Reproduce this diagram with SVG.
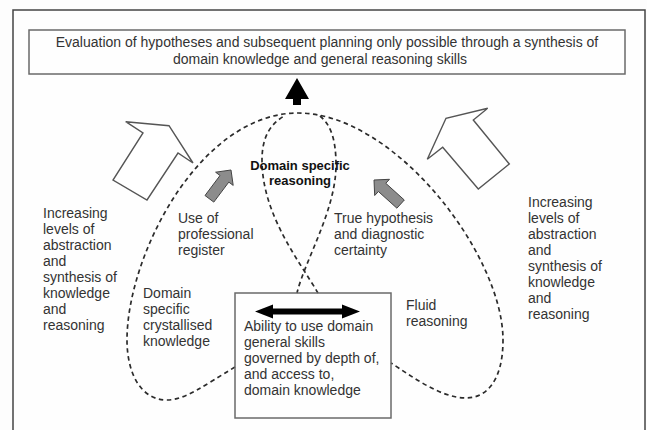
<svg xmlns="http://www.w3.org/2000/svg" width="647" height="430" viewBox="0 0 647 430">
<style>
  text { font-family: "Liberation Sans", Arial, sans-serif; font-size: 14px; fill: #333; }
  .bold { font-weight: bold; font-size: 13px; fill: #111; }
  .box { fill: none; stroke: #6a6a6a; stroke-width: 1.5; }
  .dash { fill: none; stroke: #2b2b2b; stroke-width: 1.7; stroke-dasharray: 4.5 3.5; }
  .block { fill: #ffffff; stroke: #555; stroke-width: 1.4; stroke-linejoin: miter; }
  .grey { fill: #8c8c8c; stroke: #444; stroke-width: 1; }
  .black { fill: #000; }
</style>
<rect x="0" y="0" width="647" height="430" fill="#fdfdfd"/>
<rect x="13" y="10" width="632" height="430" fill="#fefefe" stroke="#444" stroke-width="1.5"/>

<g id="connectors">
  <path class="dash" d="M 235 367 C 205 385, 185 400, 167 400 C 140 400, 127 372, 127 340 C 127 255, 200 113, 298 113 C 395 113, 503 255, 503 340 C 503 380, 487 398, 466 398 C 440 398, 410 375, 391 363"/>
  <path class="dash" d="M 318 293 C 300 262, 262 215, 262 160 C 262 136, 271 124, 284 116"/>
  <path class="dash" d="M 320 116 C 331 125, 336 140, 336 165 C 336 210, 305 260, 297 293"/>
</g>

<g id="top-box">
  <rect class="box" x="29" y="30" width="596" height="44"/>
  <text x="327" y="47" text-anchor="middle">Evaluation of hypotheses and subsequent planning only possible through a synthesis of</text>
  <text x="320" y="64" text-anchor="middle">domain knowledge and general reasoning skills</text>
</g>

<g id="up-arrow">
  <polygon class="black" points="297,78 309,99 301,99 301,105 293,105 293,99 285,99"/>
</g>

<g id="left-block-arrow">
  <polygon class="block" points="125.7,121.7 169,125.7 193,163 178,153 147,200 113,180 143,133"/>
</g>
<g id="right-block-arrow">
  <polygon class="block" points="487.7,108.3 473.3,120 509.3,164 478.3,189 442.7,147.3 427.3,159.3 446,118.3"/>
</g>

<g id="left-grey-arrow">
  <polygon class="grey" points="231,170 233.2,185.4 228.8,182.1 213.8,202.1 205,195.5 220,175.5 215.6,172.2"/>
</g>
<g id="right-grey-arrow">
  <polygon class="grey" points="374,180 389.5,179.3 385.8,183.3 404.3,200 396.9,208.2 378.4,191.5 374.7,195.5"/>
</g>

<g id="left-text">
  <text x="43" y="218">Increasing</text>
  <text x="43" y="234">levels of</text>
  <text x="43" y="250">abstraction</text>
  <text x="43" y="266">and</text>
  <text x="43" y="282">synthesis of</text>
  <text x="43" y="298">knowledge</text>
  <text x="43" y="314">and</text>
  <text x="43" y="330">reasoning</text>
</g>

<g id="right-text">
  <text x="528" y="207">Increasing</text>
  <text x="528" y="223">levels of</text>
  <text x="528" y="239">abstraction</text>
  <text x="528" y="255">and</text>
  <text x="528" y="271">synthesis of</text>
  <text x="528" y="287">knowledge</text>
  <text x="528" y="303">and</text>
  <text x="528" y="319">reasoning</text>
</g>

<g id="domain-specific-reasoning">
  <text class="bold" x="300" y="170" text-anchor="middle">Domain specific</text>
  <text class="bold" x="300" y="185" text-anchor="middle">reasoning</text>
</g>

<g id="professional-register">
  <text x="178" y="223">Use of</text>
  <text x="178" y="239">professional</text>
  <text x="178" y="255">register</text>
</g>

<g id="true-hypothesis">
  <text x="334" y="223">True hypothesis</text>
  <text x="334" y="239">and diagnostic</text>
  <text x="334" y="255">certainty</text>
</g>

<g id="crystallised-knowledge">
  <text x="143" y="298">Domain</text>
  <text x="143" y="314">specific</text>
  <text x="143" y="330">crystallised</text>
  <text x="143" y="346">knowledge</text>
</g>

<g id="fluid-reasoning">
  <text x="406" y="310">Fluid</text>
  <text x="406" y="326">reasoning</text>
</g>

<g id="central-box">
  <rect class="box" x="235" y="293" width="156" height="125" fill="#fefefe"/>
  <polygon class="black" points="255,311.5 273,304.5 273,308.5 342,308.5 342,304.5 360,311.5 342,318.5 342,314.5 273,314.5 273,318.5"/>
  <text x="244" y="331">Ability to use domain</text>
  <text x="244" y="347">general skills</text>
  <text x="244" y="363">governed by depth of,</text>
  <text x="244" y="379">and access to,</text>
  <text x="244" y="395">domain knowledge</text>
</g>
</svg>
